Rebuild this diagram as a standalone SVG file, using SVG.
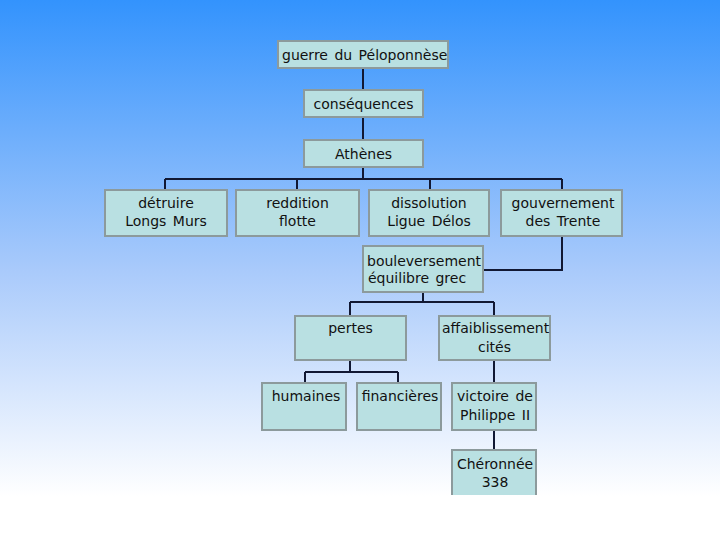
<svg xmlns="http://www.w3.org/2000/svg" width="720" height="540" viewBox="0 0 720 540">
<defs>
<linearGradient id="bg" x1="0" y1="0" x2="0" y2="1">
<stop offset="0" stop-color="#3393fd"/>
<stop offset="0.5" stop-color="#a9cafb"/>
<stop offset="0.92" stop-color="#ffffff"/>
<stop offset="1" stop-color="#ffffff"/>
</linearGradient>
<style>
.box{fill:#b9e0e2;stroke:#8c9a9c;stroke-width:2}
.t{font-family:"DejaVu Sans","Liberation Sans",sans-serif;font-size:14px;fill:#111;text-anchor:middle;word-spacing:2px}
.l{text-anchor:start}
.c{fill:none;stroke:#111833;stroke-width:2}
</style>
</defs>
<rect x="0" y="0" width="720" height="540" fill="url(#bg)"/>
<g id="connectors">
<path class="c" d="M363 68V90M363 117V140M363 167V179M165 179H562M165 179V190M297 179V190M430 179V190M562 179V190"/>
<path class="c" d="M562 236V270H483"/>
<path class="c" d="M423 292V302M350 302H494M350 302V316M494 302V316"/>
<path class="c" d="M350 360V372M305 372H398M305 372V383M398 372V383"/>
<path class="c" d="M494 360V383M494 430V450"/>
</g>
<g id="n1"><rect class="box" x="278" y="41" width="170" height="27"/><text class="t l" x="282" y="60">guerre du Péloponnèse</text></g>
<g id="n2"><rect class="box" x="304" y="90" width="119" height="27"/><text class="t" x="363.500" y="109">conséquences</text></g>
<g id="n3"><rect class="box" x="304" y="140" width="119" height="27"/><text class="t" x="363.500" y="159">Athènes</text></g>
<g id="n4"><rect class="box" x="105" y="190" width="122" height="46"/><text class="t" x="166" y="208">détruire</text><text class="t" x="166" y="226">Longs Murs</text></g>
<g id="n5"><rect class="box" x="236" y="190" width="123" height="46"/><text class="t" x="297.500" y="208">reddition</text><text class="t" x="297.500" y="226">flotte</text></g>
<g id="n6"><rect class="box" x="369" y="190" width="120" height="46"/><text class="t" x="429" y="208">dissolution</text><text class="t" x="429" y="226">Ligue Délos</text></g>
<g id="n7"><rect class="box" x="501" y="190" width="121" height="46"/><text class="t" x="563" y="208">gouvernement</text><text class="t" x="563" y="226">des Trente</text></g>
<g id="n8"><rect class="box" x="363" y="246" width="120" height="46"/><text class="t l" x="367" y="266">bouleversement</text><text class="t l" x="368" y="283">équilibre grec</text></g>
<g id="n9"><rect class="box" x="295" y="316" width="111" height="44"/><text class="t" x="350.500" y="333">pertes</text></g>
<g id="n10"><rect class="box" x="439" y="316" width="111" height="44"/><text class="t l" x="442" y="333">affaiblissement</text><text class="t" x="494.500" y="352">cités</text></g>
<g id="n11"><rect class="box" x="262" y="383" width="84" height="47"/><text class="t" x="306" y="401">humaines</text></g>
<g id="n12"><rect class="box" x="357" y="383" width="84" height="47"/><text class="t" x="400" y="401">financières</text></g>
<g id="n13"><rect class="box" x="452" y="383" width="84" height="47"/><text class="t" x="495" y="401">victoire de</text><text class="t" x="495" y="420">Philippe II</text></g>
<g id="n14"><rect x="452" y="450" width="84" height="45" fill="#b9e0e2"/><path d="M452 495V450H536V495" fill="none" stroke="#8c9a9c" stroke-width="2"/><text class="t" x="495" y="469">Chéronnée</text><text class="t" x="495" y="487">338</text></g>
</svg>
